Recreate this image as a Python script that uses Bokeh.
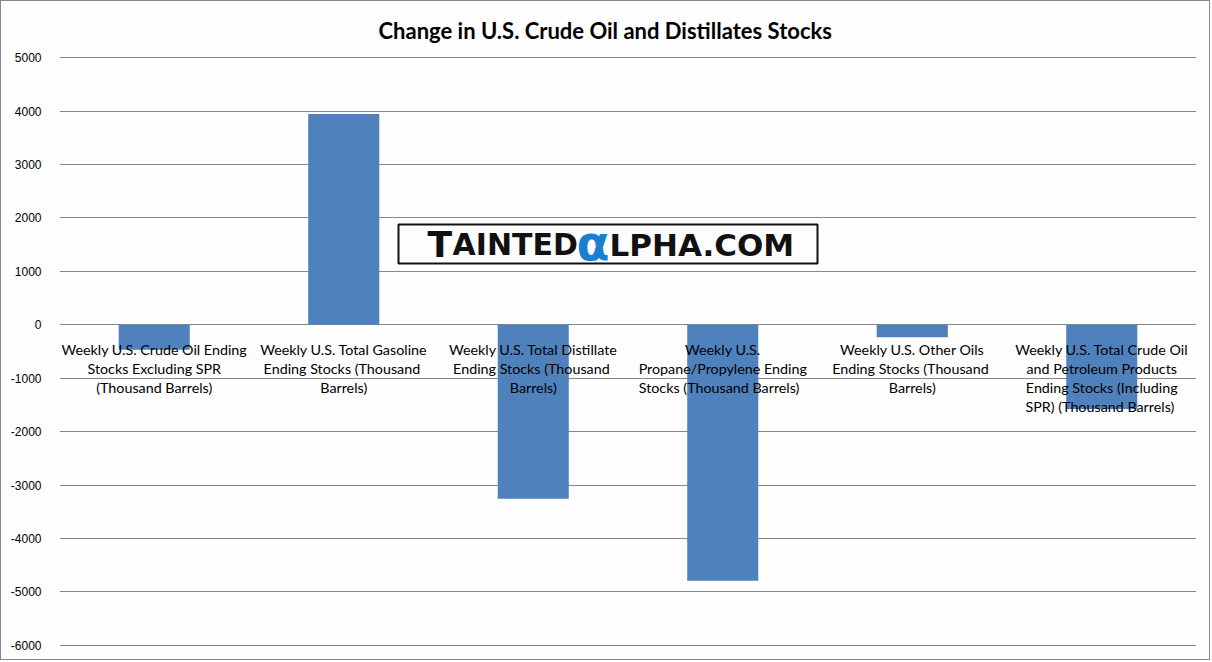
from bokeh.plotting import figure
from bokeh.models import ColumnDataSource, FactorRange, FixedTicker, Label, Range1d, BoxAnnotation
from bokeh.core.properties import value
from bokeh.embed import file_html
from bokeh.resources import INLINE

title_text = "Change in U.S. Crude Oil and Distillates Stocks"
categories = [
    "Weekly U.S. Crude Oil Ending Stocks Excluding SPR (Thousand Barrels)",
    "Weekly U.S. Total Gasoline Ending Stocks (Thousand Barrels)",
    "Weekly U.S. Total Distillate Ending Stocks (Thousand Barrels)",
    "Weekly U.S. Propane/Propylene Ending Stocks (Thousand Barrels)",
    "Weekly U.S. Other Oils Ending Stocks (Thousand Barrels)",
    "Weekly U.S. Total Crude Oil and Petroleum Products Ending Stocks (Including SPR) (Thousand Barrels)",
]
labels = [
    "Weekly U.S. Crude Oil Ending\nStocks Excluding SPR\n(Thousand Barrels)",
    "Weekly U.S. Total Gasoline\nEnding Stocks  (Thousand\nBarrels)",
    "Weekly U.S. Total Distillate\nEnding Stocks  (Thousand\nBarrels)",
    "Weekly U.S.\nPropane/Propylene Ending\nStocks  (Thousand  Barrels)",
    "Weekly U.S. Other Oils\nEnding Stocks  (Thousand\nBarrels)",
    "Weekly U.S. Total Crude Oil\nand Petroleum Products\nEnding Stocks (Including\nSPR)  (Thousand Barrels)",
]
changes = [-465, 3945, -3255, -4790, -235, -1575]
y_ticks = [-6000, -5000, -4000, -3000, -2000, -1000, 0, 1000, 2000, 3000, 4000, 5000]

src = ColumnDataSource(dict(cat=categories, val=changes, lab=labels, zero=[0] * len(categories)))

p = figure(
    width=1210, height=660,
    x_range=FactorRange(*categories, range_padding=0),
    y_range=Range1d(-6020, 5020),
    output_backend="svg", toolbar_location=None,
    min_border_left=58, min_border_right=15, min_border_top=54, min_border_bottom=15,
    styles={"border": "1px solid #888888"},
)
p.background_fill_color = "#fdfefd"
p.border_fill_color = "#fdfefd"
p.outline_line_color = None

p.title.text = title_text
p.title.align = "left"
p.title.offset = 319
p.title.standoff = 26
p.title.text_line_height = 0.7
p.title.text_font = "Lato"
p.title.text_font_style = "bold"
p.title.text_font_size = "22px"
p.title.text_color = "#000000"

p.vbar(x="cat", top="val", bottom=0, width=0.375, source=src,
       fill_color="#4F81BD", line_color=None)

p.text(x="cat", y="zero", text="lab", source=src, text_align="center",
       text_baseline="top", y_offset=16, text_font=value("Lato"),
       text_font_size="14.3px", text_color="#000000", text_line_height=1.13)

p.xaxis.visible = False
p.xgrid.grid_line_color = None
p.ygrid.grid_line_color = "#868686"
p.ygrid.ticker = FixedTicker(ticks=y_ticks)
p.yaxis.ticker = FixedTicker(ticks=y_ticks)
p.yaxis.major_label_overrides = {t: str(t) for t in y_ticks}
p.yaxis.axis_line_color = None
p.yaxis.major_tick_line_color = None
p.yaxis.minor_tick_line_color = None
p.yaxis.major_label_standoff = 12
p.yaxis.major_label_text_font = "Liberation Sans"
p.yaxis.major_label_text_font_size = "12px"
p.yaxis.major_label_text_color = "#000000"

# watermark (screen units, measured from the frame's bottom-left corner)
p.add_layout(BoxAnnotation(left=339, right=758, top=422, bottom=383,
                           left_units="screen", right_units="screen",
                           top_units="screen", bottom_units="screen",
                           fill_color="#fdfdfd", fill_alpha=1.0,
                           line_color="#111111", line_alpha=1.0, line_width=2))
wm = dict(x_units="screen", y_units="screen", text_baseline="alphabetic",
          text_font="DejaVu Sans", text_font_style="bold")
p.add_layout(Label(x=368, y=402, text="T", text_font_size="36px", text_color="#111111", **wm))
p.add_layout(Label(x=393, y=402, text="AINTED", text_font_size="30px", text_color="#111111", **wm))
p.add_layout(Label(x=517, y=404, text="α", text_font_size="48px", text_color="#1a7fd0", **wm))
p.add_layout(Label(x=550, y=402, text="LPHA.COM", text_font_size="31px", text_color="#111111", **wm))

open("out.html", "w").write(file_html(p, INLINE))
